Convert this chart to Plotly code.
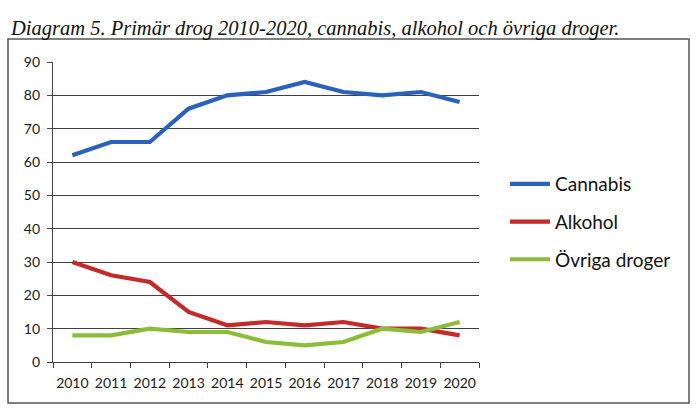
import plotly.graph_objects as go

years = ["2010", "2011", "2012", "2013", "2014", "2015", "2016", "2017", "2018", "2019", "2020"]
cannabis = [62, 66, 66, 76, 80, 81, 84, 81, 80, 81, 78]
alkohol = [30, 26, 24, 15, 11, 12, 11, 12, 10, 10, 8]
ovriga = [8, 8, 10, 9, 9, 6, 5, 6, 10, 9, 12]

series = [
    ("Cannabis", cannabis, "#2A62BA"),
    ("Alkohol", alkohol, "#C42A2A"),
    ("Övriga droger", ovriga, "#8CBD3A"),
]

W, H = 700, 414
L, R, T, B = 53, 479, 62, 362
pw, ph = R - L, B - T

def px(x):
    return (x - L) / pw

def py(y):
    return (B - y) / ph

fig = go.Figure()
for i, (name, vals, col) in enumerate(series):
    fig.add_trace(go.Scatter(x=years, y=vals, name=name, mode="lines",
                             line=dict(color=col, width=4.2),
                             legendgroup=str(i)))

tickfont = dict(family="Lato, Open Sans, sans-serif", size=14, color="#1a1a1a")

fig.update_layout(
    width=W, height=H,
    margin=dict(l=L, r=W - R, t=T, b=H - B, autoexpand=False),
    paper_bgcolor="white", plot_bgcolor="white",
    showlegend=True,
    legend=dict(x=px(505), y=py(222), xanchor="left", yanchor="middle",
                font=dict(family="Lato, Open Sans, sans-serif", size=19, color="#111"),
                tracegroupgap=10, itemwidth=40, bgcolor="rgba(0,0,0,0)"),
    xaxis=dict(type="category", tickson="boundaries", ticks="outside", ticklen=5,
               range=[-0.5, 10.5], tickangle=0,
               tickcolor="#404040", showgrid=False, showline=True, linecolor="#404040",
               linewidth=1.3, tickfont=tickfont, fixedrange=True, ticklabelstandoff=8),
    yaxis=dict(range=[0, 90], dtick=10, ticks="outside", ticklen=5, tickcolor="#404040",
               showgrid=True, gridcolor="#404040", gridwidth=1.3, showline=True,
               linecolor="#404040", linewidth=1.3, tickfont=tickfont, zeroline=False,
               fixedrange=True, ticklabelstandoff=4),
    shapes=[dict(type="rect", xref="paper", yref="paper",
                 x0=px(8), x1=px(689), y0=py(403), y1=py(39),
                 line=dict(color="#555555", width=1.5), fillcolor="rgba(0,0,0,0)")],
    annotations=[dict(text="<i>Diagram 5. Primär drog 2010-2020, cannabis, alkohol och övriga droger.</i>",
                      xref="paper", yref="paper", x=px(8), y=py(28), xanchor="left",
                      yanchor="middle", showarrow=False,
                      font=dict(family="Liberation Serif, Times New Roman, serif", size=20.5,
                                color="#111"))],
)

fig.write_html("out.html", config={"displayModeBar": False},
               post_script="document.body.style.margin='0';")
